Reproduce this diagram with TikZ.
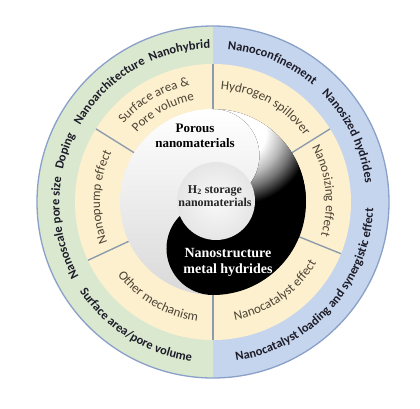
\documentclass[tikz,border=0pt]{standalone}
\usepackage{fontspec}
\setmainfont{Liberation Serif}
\newfontfamily\calib{Carlito}
\usetikzlibrary{decorations.text}
\definecolor{ringgreen}{HTML}{DBE8D0}
\definecolor{ringblue}{HTML}{C6D5EE}
\definecolor{ringyellow}{HTML}{FDF0CF}
\definecolor{rimline}{HTML}{8AA0C8}
\definecolor{divline}{HTML}{8C9CAC}
\definecolor{outertext}{HTML}{1C1C28}
\definecolor{innertext}{HTML}{4B4334}
\pgfdeclareradialshading{yinrad}{\pgfpoint{0bp}{0bp}}{color(0bp)=(white); color(7bp)=(white); color(11bp)=(gray!55); color(14bp)=(gray!90!black); color(18bp)=(black); color(50bp)=(black)}
\tikzset{
  outerlbl/.style={decorate, decoration={text along path, text align=center, text color=outertext,
      text={|\calib\bfseries\fontsize{12.5}{14}\selectfont|#1}}},
  innerlbl/.style={decorate, decoration={text along path, text align=center, text color=innertext,
      text={|\calib\fontsize{13}{15}\selectfont|#1}}},
  divider/.style={draw=divline, line width=1.4pt},
  centerlbl/.style={align=center, inner sep=0pt}
}
\newcommand\cwlabel[4]{\path[#3={#4}] ({#1+70}:#2) arc[start angle={#1+70}, end angle={#1-70}, radius=#2];}
\newcommand\ccwlabel[4]{\path[#3={#4}] ({#1-70}:#2) arc[start angle={#1-70}, end angle={#1+70}, radius=#2];}
\begin{document}
\begin{tikzpicture}[x=1pt,y=1pt]
\fill[white] (-213,-206) rectangle (207,202);
\useasboundingbox (-213,-206) rectangle (207,202);
% outer band
\fill[ringgreen] (0,176) arc[start angle=90, end angle=270, radius=176] -- cycle;
\fill[ringblue] (0,176) arc[start angle=90, end angle=-90, radius=176] -- cycle;
\draw[rimline, line width=1.3pt] (0,0) circle (176);
% yellow band
\fill[ringyellow] (0,0) circle (138);
\foreach \a in {90,32,-22,270,205,148} {
  \draw[divider] (\a:92) -- (\a:138);
}
% yin-yang
\shade[top color=white, bottom color=gray!30]
  (0,93) arc[start angle=90, end angle=270, radius=93]
  arc[start angle=-90, end angle=-270, radius=46.5]
  arc[start angle=-90, end angle=90, radius=46.5] -- cycle;
\begin{scope}
  \clip (0,93) arc[start angle=90, end angle=-90, radius=93]
    arc[start angle=-90, end angle=-270, radius=46.5]
    arc[start angle=-90, end angle=90, radius=46.5] -- cycle;
  \fill[black] (-100,-100) rectangle (100,100);
  \shade[shading=yinrad] (25,70) circle (100);
\end{scope}
\shade[inner color=gray!5, outer color=gray!20] (3,1) circle (39);
% centre texts
\node[centerlbl, font=\bfseries\fontsize{13}{15}\selectfont] (porous) at (-18,66) {Porous\\nanomaterials};
\node[centerlbl, font=\bfseries\fontsize{12}{13.5}\selectfont, text=black!85] (htwo) at (2,6) {H\textsubscript{2} storage\\nanomaterials};
\node[centerlbl, font=\bfseries\fontsize{14}{16}\selectfont, text=white] (metal) at (15,-60) {Nanostructure\\metal hydrides};
% yellow ring texts
\cwlabel{120}{119}{innerlbl}{Surface area {\&}}
\cwlabel{119}{103}{innerlbl}{Pore volume}
\cwlabel{61}{113}{innerlbl}{Hydrogen spillover}
\cwlabel{6}{113}{innerlbl}{Nanosizing effect}
\ccwlabel{305}{120}{innerlbl}{Nanocatalyst effect}
\ccwlabel{240}{120}{innerlbl}{Other mechanism}
\cwlabel{177.5}{113}{innerlbl}{Nanopump effect}
% outer ring texts
\cwlabel{190}{153.5}{outerlbl}{Nanoscale pore size}
\cwlabel{161}{153.5}{outerlbl}{Doping}
\cwlabel{133}{153.5}{outerlbl}{Nanoarchitecture}
\cwlabel{102.5}{153.5}{outerlbl}{Nanohybrid}
\ccwlabel{238}{160.5}{outerlbl}{Surface area/pore volume}
\cwlabel{67}{153.5}{outerlbl}{Nanoconfinement}
\cwlabel{26}{153.5}{outerlbl}{Nanosized hydrides}
\ccwlabel{318}{160.5}{outerlbl}{Nanocatalyst loading and synergistic effect}
\end{tikzpicture}
\end{document}
